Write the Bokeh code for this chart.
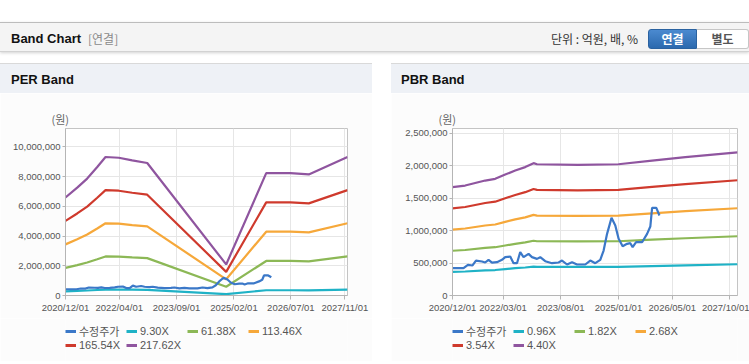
import pandas as pd
from bokeh.plotting import figure
from bokeh.models import (Range1d, FixedTicker, DatetimeTickFormatter, NumeralTickFormatter,
                          Legend, LegendItem, Title, Div, Spacer, ColumnDataSource)
from bokeh.layouts import column, row
from bokeh.embed import file_html
from bokeh.resources import INLINE

# ---------------- data ----------------
price_dates = ["2020-12-01", "2021-03-10", "2021-04-19", "2021-05-30", "2021-06-30", "2021-08-23",
               "2021-09-21", "2021-10-21", "2021-11-21", "2022-01-05", "2022-02-19", "2022-03-20",
               "2022-05-04", "2022-06-03", "2022-07-04", "2022-08-02", "2022-09-01", "2022-10-16",
               "2022-11-16", "2022-12-31", "2023-01-29", "2023-03-15", "2023-05-15", "2023-07-13",
               "2023-08-13", "2023-09-27", "2023-11-11", "2023-12-26", "2024-03-09", "2024-04-23",
               "2024-06-07", "2024-07-22", "2024-08-21", "2024-09-21", "2024-10-31", "2024-12-04",
               "2025-01-03", "2025-02-08", "2025-03-20", "2025-04-18", "2025-05-09", "2025-06-09",
               "2025-08-02", "2025-09-16", "2025-10-15", "2025-10-31", "2025-12-08", "2026-01-05"]
price_values = [420000, 420000, 472000, 462000, 538000, 523000, 508000, 549000, 505000, 513000,
                549000, 590000, 600000, 497000, 497000, 667000, 590000, 641000, 590000, 564000,
                590000, 528000, 497000, 508000, 538000, 477000, 513000, 477000, 477000, 538000,
                497000, 549000, 692000, 949000, 1195000, 1077000, 872000, 759000, 795000, 805000,
                744000, 820000, 820000, 949000, 1061000, 1349000, 1349000, 1231000]

per_dates = ["2020-12-01", "2021-03-17", "2021-06-15", "2021-09-14", "2021-11-28", "2022-03-28",
             "2022-07-27", "2022-12-10", "2024-11-23", "2025-11-20", "2026-06-27", "2026-12-10",
             "2027-11-25"]
per_930 = [282000, 310000, 336000, 370000, 398000, 396000, 389000, 381000, 89000, 352000, 352000, 348000, 398000]
per_6138 = [1862000, 2048000, 2220000, 2440000, 2629000, 2615000, 2564000, 2516000, 589000, 2324000, 2324000, 2299000, 2629000]
per_11346 = [3441000, 3785000, 4103000, 4510000, 4860000, 4833000, 4739000, 4651000, 1089000, 4296000, 4296000, 4249000, 4860000]
per_16554 = [5021000, 5522000, 5986000, 6580000, 7090000, 7052000, 6915000, 6786000, 1589000, 6267000, 6267000, 6200000, 7090000]
per_21762 = [6600000, 7260000, 7870000, 8650000, 9320000, 9270000, 9090000, 8920000, 2090000, 8240000, 8240000, 8150000, 9320000]

pbr_dates = ["2020-12-01", "2021-03-25", "2021-09-21", "2021-12-20", "2022-03-20", "2022-06-18",
             "2022-09-16", "2022-11-30", "2022-12-31", "2024-01-01", "2025-01-01", "2025-10-31",
             "2026-08-26", "2027-12-08"]
pbr_096 = [364000, 369000, 386000, 392000, 406000, 420000, 431000, 445000, 441000, 439000, 441000, 453000, 465000, 481000]
pbr_182 = [689000, 700000, 732000, 743000, 770000, 795000, 817000, 843000, 835000, 832000, 835000, 859000, 881000, 912000]
pbr_268 = [1015000, 1031000, 1077000, 1093000, 1134000, 1171000, 1203000, 1241000, 1230000, 1225000, 1230000, 1265000, 1297000, 1343000]
pbr_354 = [1341000, 1362000, 1423000, 1444000, 1497000, 1547000, 1590000, 1639000, 1625000, 1618000, 1625000, 1671000, 1713000, 1774000]
pbr_440 = [1667000, 1692000, 1769000, 1795000, 1861000, 1923000, 1976000, 2037000, 2020000, 2011000, 2020000, 2077000, 2130000, 2204000]

per_labels = ["수정주가", "9.30X", "61.38X", "113.46X", "165.54X", "217.62X"]
pbr_labels = ["수정주가", "0.96X", "1.82X", "2.68X", "3.54X", "4.40X"]

per_xticks = ["2020-12-01", "2022-04-01", "2023-09-01", "2025-02-01", "2026-07-01", "2027-11-01"]
pbr_xticks = ["2020-12-01", "2022-03-01", "2023-08-01", "2025-01-01", "2026-05-01", "2027-10-01"]
per_yticks = [0, 2000000, 4000000, 6000000, 8000000, 10000000]
pbr_yticks = [0, 500000, 1000000, 1500000, 2000000, 2500000]

colors = ["#3b78c8", "#1fb2c6", "#8cb856", "#f6a83a", "#cf3a2d", "#8f559f"]

NUM_FONT = "Liberation Sans, Noto Sans CJK KR"
BODY_BG = "#fcfcfc"


def ms(d):
    return pd.Timestamp(d).value / 1e6


def make_fig(width, left, right, x_start, x_end, y_end, xticks, yticks, band_dates, bands):
    p = figure(width=width, height=225, x_range=Range1d(ms(x_start), ms(x_end)),
               y_range=Range1d(0, y_end), x_axis_type="datetime",
               output_backend="svg", toolbar_location=None,
               min_border_left=left, min_border_right=right, min_border_top=35, min_border_bottom=23)
    p.background_fill_color = "#ffffff"
    p.border_fill_color = BODY_BG
    p.outline_line_color = "#c4c4c4"

    p.xaxis.ticker = FixedTicker(ticks=[ms(t) for t in xticks])
    fmt = "%Y/%m/%d"
    p.xaxis.formatter = DatetimeTickFormatter(microseconds=fmt, milliseconds=fmt, seconds=fmt, minsec=fmt,
                                              minutes=fmt, hourmin=fmt, hours=fmt, days=fmt,
                                              months=fmt, years=fmt)
    p.yaxis.ticker = FixedTicker(ticks=yticks)
    p.yaxis.formatter = NumeralTickFormatter(format="0,0")
    for ax in (p.xaxis, p.yaxis):
        ax.axis_line_color = "#b5b5b5"
        ax.major_tick_line_color = "#b5b5b5"
        ax.minor_tick_line_color = None
        ax.major_tick_in = 0
        ax.major_label_text_font = NUM_FONT
        ax.major_label_text_font_size = "9.5px"
        ax.major_label_text_color = "#555555"
        ax.major_label_standoff = 2
    p.xaxis.major_tick_out = 4
    p.yaxis.major_tick_out = 3
    p.xgrid.grid_line_color = "#e6e6e6"
    p.ygrid.grid_line_color = "#e6e6e6"

    bsrc = ColumnDataSource(dict(date=pd.to_datetime(band_dates), **{f"b{i}": v for i, v in enumerate(bands)}))
    psrc = ColumnDataSource(dict(date=pd.to_datetime(price_dates), price=price_values))
    for i in range(len(bands)):
        p.line("date", f"b{i}", source=bsrc, line_color=colors[i + 1], line_width=2.2)
    p.line("date", "price", source=psrc, line_color=colors[0], line_width=2.2)

    p.add_layout(Title(text="(원)", align="left", offset=-14, standoff=4, text_font_size="11px",
                       text_font_style="normal", text_color="#666666", text_font="Noto Sans CJK KR"),
                 "above")
    return p


def make_legend_fig(width, labels):
    lf = figure(width=width, height=43, x_range=Range1d(0, 1), y_range=Range1d(0, 1),
                output_backend="svg", toolbar_location=None,
                x_axis_location=None, y_axis_location=None,
                min_border_left=0, min_border_right=0, min_border_top=0, min_border_bottom=0)
    lf.grid.visible = False
    lf.outline_line_color = None
    lf.background_fill_color = BODY_BG
    lf.border_fill_color = BODY_BG
    nan = float("nan")
    rends = [lf.line(x=[nan, nan], y=[nan, nan], line_color=c, line_width=3) for c in colors]
    items = [LegendItem(label=lab, renderers=[r]) for lab, r in zip(labels, rends)]
    legend = Legend(items=items, location=(0, 10), orientation="horizontal", ncols=4,
                    border_line_color=None, background_fill_alpha=0, padding=0, margin=0,
                    spacing=0, glyph_width=11, glyph_height=12, label_standoff=3,
                    label_width=47, label_height=12, label_text_font_size="11px",
                    label_text_color="#555555", label_text_font=NUM_FONT)
    lf.add_layout(legend)
    return lf


per_fig = make_fig(372, 65, 25, "2020-12-01", "2027-11-25", 11240000, per_xticks, per_yticks,
                   per_dates, [per_930, per_6138, per_11346, per_16554, per_21762])
pbr_fig = make_fig(358, 61, 12, "2020-12-01", "2027-12-08", 2570000, pbr_xticks, pbr_yticks,
                   pbr_dates, [pbr_096, pbr_182, pbr_268, pbr_354, pbr_440])
per_leg = make_legend_fig(372, per_labels)
pbr_leg = make_legend_fig(358, pbr_labels)

top_html = """
<div style="position:relative;width:749px;height:63px;overflow:hidden;">
  <div style="position:absolute;left:0;top:22px;width:749px;height:30px;background:#f4f4f4;border-top:1px solid #bcbcbc;border-bottom:1px solid #d2d2d2;box-shadow:0 1px 3px rgba(0,0,0,0.18);"></div>
  <div style="position:absolute;left:11px;top:31px;font-family:'Liberation Sans';font-size:13px;font-weight:bold;color:#111;line-height:16px;white-space:nowrap;">Band Chart</div>
  <div style="position:absolute;left:88px;top:31px;font-family:'Noto Sans CJK KR';font-size:12px;color:#8a8a8a;line-height:16px;white-space:nowrap;">[연결]</div>
  <div style="position:absolute;left:551px;top:31px;font-family:'Noto Sans CJK KR';font-size:12px;color:#333;line-height:16px;white-space:nowrap;">단위 : 억원, 배, %</div>
  <div style="position:absolute;left:648px;top:29px;width:49px;height:20px;box-sizing:border-box;background:linear-gradient(#4b8ad0,#2b69ae);border:1px solid #2a62a0;border-radius:3px 0 0 3px;color:#fff;font-family:'Noto Sans CJK KR';font-size:12px;font-weight:bold;text-align:center;line-height:18px;">연결</div>
  <div style="position:absolute;left:697px;top:29px;width:52px;height:20px;box-sizing:border-box;background:#fff;border:1px solid #c6c6c6;border-left:none;border-radius:0 3px 3px 0;color:#555;font-family:'Noto Sans CJK KR';font-size:12px;font-weight:bold;text-align:center;line-height:18px;white-space:nowrap;">별도</div>
</div>
"""


def panel_header(width, text, left):
    html = (f'<div style="position:relative;width:{width}px;height:30px;box-sizing:border-box;'
            f'border-top:1px solid #d9d9d9;background:#eef1f6;">'
            f'<div style="position:absolute;left:{left}px;top:8px;font-family:\'Liberation Sans\';'
            f'font-size:13px;font-weight:bold;color:#111;line-height:16px;white-space:nowrap;">{text}</div></div>')
    return Div(text=html, width=width, height=30, margin=0)


def panel_footer(width):
    html = f'<div style="width:{width}px;height:3px;box-sizing:border-box;border-top:2px solid #d6d6d6;"></div>'
    return Div(text=html, width=width, height=3, margin=0)


top_div = Div(text=top_html, width=749, height=63, margin=0)
left_col = column(panel_header(372, "PER Band", 11), per_fig, per_leg, panel_footer(372), spacing=0)
right_col = column(panel_header(358, "PBR Band", 10), pbr_fig, pbr_leg, panel_footer(358), spacing=0)
layout = column(top_div, row(left_col, Spacer(width=19, height=301, margin=0), right_col, spacing=0), spacing=0)

open("out.html", "w").write(file_html(layout, INLINE))
